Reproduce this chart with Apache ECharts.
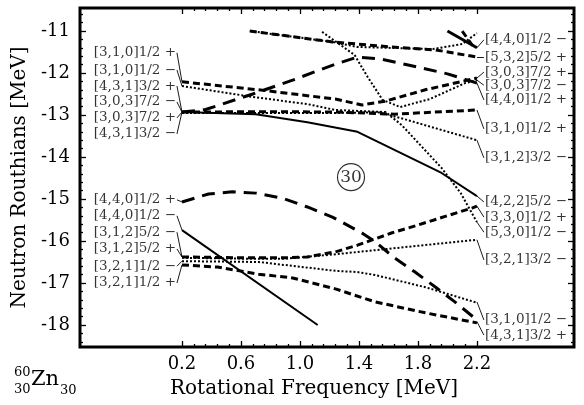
<!DOCTYPE html>
<html>
<head>
<meta charset="utf-8">
<script src="https://cdn.jsdelivr.net/npm/echarts@6/dist/echarts.min.js"></script>
<style>html,body{margin:0;padding:0;background:#fff}#c{width:584px;height:405px}</style>
</head>
<body>
<div id="c"></div>
<script>
// ---------- axis ticks ----------
const omegaTicks = [0.2, 0.6, 1.0, 1.4, 1.8, 2.2];
const omegaMinorTicks = [0.28,0.36,0.44,0.52,0.68,0.76,0.84,0.92,1.08,1.16,1.24,1.32,1.48,1.56,1.64,1.72,1.88,1.96,2.04,2.12];
const energyTicks = [-18, -17, -16, -15, -14, -13, -12, -11];
const energyMinorTicks = [-18.4,-18.2,-17.8,-17.6,-17.4,-17.2,-16.8,-16.6,-16.4,-16.2,-15.8,-15.6,-15.4,-15.2,-14.8,-14.6,-14.4,-14.2,-13.8,-13.6,-13.4,-13.2,-12.8,-12.6,-12.4,-12.2,-11.8,-11.6,-11.4,-11.2,-10.8,-10.6];

// ---------- Routhian curves [omega (MeV), E (MeV)] ----------
const upperSolid = [[0.2,-12.93],[0.7,-12.98],[1.05,-13.17],[1.39,-13.40],[1.96,-14.38],[2.2,-14.93]];
const upperLongDash = [[0.2,-12.93],[0.36,-12.87],[0.68,-12.50],[0.95,-12.17],[1.24,-11.79],[1.39,-11.62],[1.55,-11.67],[1.71,-11.79],[2.0,-12.02],[2.2,-12.24]];
const upperDashedA = [[0.2,-12.21],[0.72,-12.40],[1.24,-12.62],[1.42,-12.76],[1.58,-12.67],[1.85,-12.40],[2.2,-12.12]];
const upperDottedA = [[0.2,-12.31],[0.68,-12.57],[1.05,-12.74],[1.24,-12.88],[1.58,-12.93],[1.69,-13.24],[1.96,-14.26],[2.09,-14.86],[2.2,-15.55]];
const steepDotted = [[1.15,-11.02],[1.37,-11.57],[1.46,-12.10],[1.56,-12.64],[1.68,-12.81],[1.88,-12.62],[2.12,-12.24],[2.2,-12.17]];
const upperDashedB = [[0.2,-12.93],[0.8,-12.92],[1.24,-12.93],[1.64,-12.98],[2.2,-12.88]];
const upperDottedB = [[0.2,-12.95],[1.24,-12.95],[1.54,-12.94],[1.68,-13.07],[2.15,-13.55],[2.2,-13.60]];
const topDashed = [[0.66,-11.0],[1.22,-11.26],[1.62,-11.38],[1.92,-11.45],[2.2,-11.62]];
const topDotted = [[0.66,-11.0],[1.22,-11.26],[1.39,-11.38],[1.9,-11.43],[2.1,-11.31],[2.2,-11.05]];
const topSolid = [[2.0,-11.0],[2.2,-11.40]];
const topDashedSteep = [[2.1,-11.0],[2.17,-11.35]];

const lowerLongDash = [[0.2,-15.07],[0.38,-14.88],[0.54,-14.83],[0.7,-14.86],[0.88,-14.98],[1.05,-15.19],[1.22,-15.43],[1.42,-15.81],[1.51,-16.02],[1.64,-16.40],[1.78,-16.74],[1.92,-17.10],[2.05,-17.45],[2.2,-17.88]];
const lowerSolid = [[0.2,-15.74],[1.12,-18.0]];
const lowerDashedA = [[0.2,-16.38],[0.6,-16.40],[0.9,-16.40],[1.05,-16.38],[1.24,-16.26],[1.39,-16.10],[1.62,-15.81],[1.8,-15.62],[2.17,-15.21],[2.2,-15.17]];
const lowerDottedA = [[0.2,-16.40],[0.6,-16.42],[0.9,-16.42],[1.2,-16.33],[2.2,-15.97]];
const lowerDottedB = [[0.2,-16.48],[0.72,-16.50],[1.24,-16.71],[1.39,-16.74],[1.51,-16.81],[1.85,-17.10],[2.2,-17.47]];
const lowerDashedB = [[0.2,-16.57],[0.44,-16.62],[0.72,-16.79],[0.95,-16.88],[1.24,-17.14],[1.51,-17.45],[1.85,-17.71],[2.2,-17.95]];

// ---------- orbital labels: [text, label E, curve E] ----------
const leftLabels = [
  ['[3,1,0]1/2 +', -11.52, -12.21],
  ['[3,1,0]1/2 \u2212', -11.93, -12.31],
  ['[4,3,1]3/2 +', -12.31, -12.93],
  ['[3,0,3]7/2 \u2212', -12.69, -12.93],
  ['[3,0,3]7/2 +', -13.07, -12.93],
  ['[4,3,1]3/2 \u2212', -13.45, -12.93],
  ['[4,4,0]1/2 +', -15.02, -15.07],
  ['[4,4,0]1/2 \u2212', -15.40, -15.74],
  ['[3,1,2]5/2 \u2212', -15.79, -16.38],
  ['[3,1,2]5/2 +', -16.19, -16.38],
  ['[3,2,1]1/2 \u2212', -16.60, -16.48],
  ['[3,2,1]1/2 +', -17.00, -16.57]
];
const rightLabels = [
  ['[4,4,0]1/2 \u2212', -11.21, -11.40],
  ['[5,3,2]5/2 +', -11.62, -11.62],
  ['[3,0,3]7/2 +', -11.98, -12.12],
  ['[3,0,3]7/2 \u2212', -12.29, -12.17],
  ['[4,4,0]1/2 +', -12.64, -12.24],
  ['[3,1,0]1/2 +', -13.33, -12.88],
  ['[3,1,2]3/2 \u2212', -14.02, -13.60],
  ['[4,2,2]5/2 \u2212', -15.07, -14.93],
  ['[3,3,0]1/2 +', -15.43, -15.17],
  ['[5,3,0]1/2 \u2212', -15.79, -15.55],
  ['[3,2,1]3/2 \u2212', -16.45, -15.97],
  ['[3,1,0]1/2 \u2212', -17.88, -17.45],
  ['[4,3,1]3/2 +', -18.24, -17.92]
];
const omegaStart = 0.2, omegaEnd = 2.2;
const nucleusNumber = '30';
const nucleusMark = [1.346, -14.48];

// ---------- chart ----------
const XMIN = -0.4915, XMAX = 2.858, YMIN = -18.524, YMAX = -10.452;
const LEFT_LABEL_OMEGA = 0.166, RIGHT_LABEL_OMEGA = 2.247;
const FONT = 'DejaVu Serif';

const styles = {
  solid: {type: 'solid', width: 2},
  dashed: {type: [7, 4], width: 3},
  longdash: {type: [13, 8], width: 3},
  dotted: {type: [2, 2], width: 2}
};
function curve(data, st) {
  return {type: 'line', data: data, showSymbol: false, symbol: 'none', smooth: false,
    silent: true, clip: true, animation: false,
    lineStyle: Object.assign({color: '#000', cap: 'butt'}, styles[st])};
}

const series = [
  curve(upperSolid, 'solid'), curve(upperLongDash, 'longdash'),
  curve(upperDashedA, 'dashed'), curve(upperDottedA, 'dotted'),
  curve(steepDotted, 'dotted'), curve(upperDashedB, 'dashed'),
  curve(upperDottedB, 'dotted'), curve(topDashed, 'dashed'),
  curve(topDotted, 'dotted'), curve(topSolid, 'solid'), curve(topDashedSteep, 'dashed'),
  curve(lowerLongDash, 'longdash'), curve(lowerSolid, 'solid'),
  curve(lowerDashedA, 'dashed'), curve(lowerDottedA, 'dotted'),
  curve(lowerDottedB, 'dotted'), curve(lowerDashedB, 'dashed')
];
series[9].lineStyle.width = 3;

const leaders = [];
leftLabels.forEach(l => leaders.push({coords: [[LEFT_LABEL_OMEGA, l[1]], [omegaStart, l[2]]]}));
rightLabels.forEach(l => leaders.push({coords: [[omegaEnd, l[2]], [RIGHT_LABEL_OMEGA, l[1]]]}));
series.push({type: 'lines', coordinateSystem: 'cartesian2d', data: leaders, silent: true,
  lineStyle: {color: '#000', width: 0.9, opacity: 1}, symbol: 'none', animation: false, z: 3});

function labelSeries(list, omega, pos) {
  return {type: 'scatter', symbolSize: 0, silent: true, animation: false,
    data: list.map(l => ({name: l[0], value: [omega, l[1]]})),
    label: {show: true, position: pos, distance: 1, formatter: '{b}', color: '#000',
      fontFamily: FONT, fontSize: 13.5}};
}
series.push(labelSeries(leftLabels, LEFT_LABEL_OMEGA, 'left'));
series.push(labelSeries(rightLabels, RIGHT_LABEL_OMEGA, 'right'));
series.push({type: 'scatter', symbol: 'circle', symbolSize: 27, silent: true, animation: false,
  data: [nucleusMark],
  itemStyle: {color: 'rgba(0,0,0,0)', borderColor: '#000', borderWidth: 1.2},
  label: {show: true, position: 'inside', formatter: nucleusNumber, color: '#000', fontFamily: FONT, fontSize: 17}});

function xAx(pos, ticks, len, labels) {
  return {type: 'value', min: XMIN, max: XMAX, position: pos, splitLine: {show: false},
    axisLine: {show: false, onZero: false},
    axisTick: {show: true, inside: true, length: len, customValues: ticks, lineStyle: {color: '#000', width: 1.3}},
    axisLabel: labels ? {show: true, customValues: ticks, formatter: v => v.toFixed(1), color: '#000',
      fontFamily: FONT, fontSize: 18, margin: 8} : {show: false},
    name: labels ? 'Rotational Frequency [MeV]' : '', nameLocation: 'middle', nameGap: 32,
    nameTextStyle: {color: '#000', fontFamily: FONT, fontSize: 20, padding: [0, 26, 0, 0]}};
}
function yAx(pos, ticks, len, labels) {
  return {type: 'value', min: YMIN, max: YMAX, position: pos, splitLine: {show: false},
    axisLine: {show: false, onZero: false},
    axisTick: {show: true, inside: true, length: len, customValues: ticks, lineStyle: {color: '#000', width: 1.3}},
    axisLabel: labels ? {show: true, customValues: ticks, formatter: v => String(v), color: '#000',
      fontFamily: FONT, fontSize: 18, margin: 10} : {show: false},
    name: labels ? 'Neutron Routhians [MeV]' : '', nameLocation: 'middle', nameGap: 39, nameRotate: 90,
    nameTextStyle: {color: '#000', fontFamily: FONT, fontSize: 20}};
}

const chart = echarts.init(document.getElementById('c'), null, {renderer: 'canvas'});
chart.setOption({
  animation: false,
  backgroundColor: '#fff',
  textStyle: {fontFamily: FONT},
  grid: {left: 80, right: 10, top: 8, bottom: 58, show: true, borderColor: '#000', borderWidth: 3, backgroundColor: 'transparent'},
  xAxis: [xAx('bottom', omegaTicks, 6, true), xAx('bottom', omegaMinorTicks, 3, false),
          xAx('top', omegaTicks, 6, false), xAx('top', omegaMinorTicks, 3, false)],
  yAxis: [yAx('left', energyTicks, 6, true), yAx('left', energyMinorTicks, 3, false),
          yAx('right', energyTicks, 6, false), yAx('right', energyMinorTicks, 3, false)],
  series: series,
  graphic: [
    {type: 'text', left: 14, top: 366, style: {text: '60', font: '13px "DejaVu Serif"', fill: '#000'}},
    {type: 'text', left: 14, top: 383, style: {text: '30', font: '13px "DejaVu Serif"', fill: '#000'}},
    {type: 'text', left: 31, top: 369, style: {text: 'Zn', font: '21px "DejaVu Serif"', fill: '#000'}},
    {type: 'text', left: 60, top: 384, style: {text: '30', font: '13px "DejaVu Serif"', fill: '#000'}}
  ]
});
</script>
</body>
</html>
